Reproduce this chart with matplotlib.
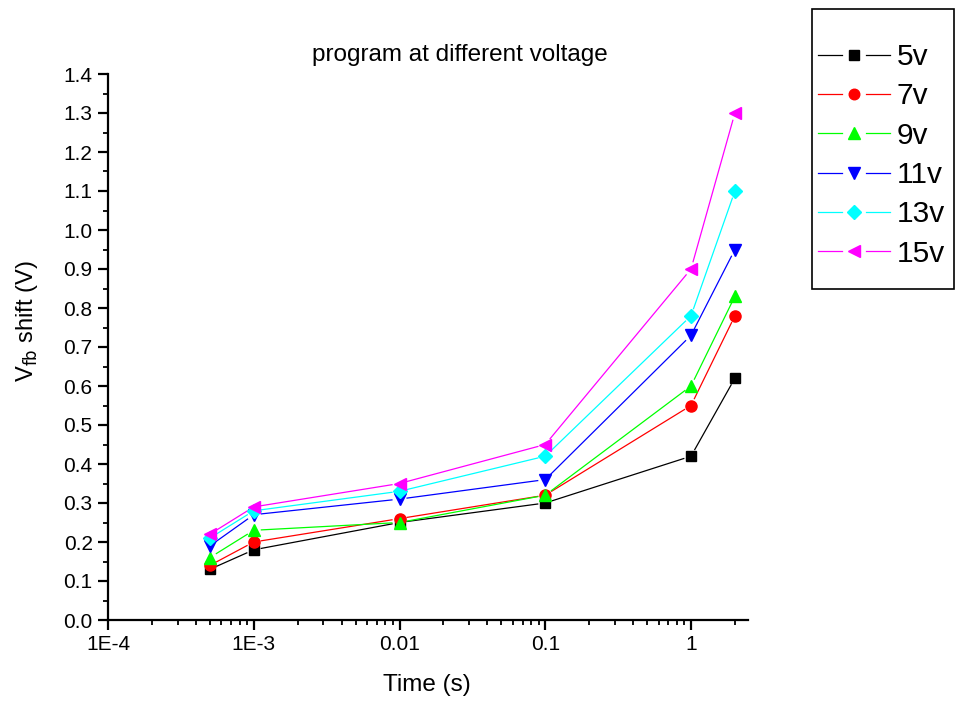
import numpy as np
import matplotlib
matplotlib.use("Agg")
import matplotlib.pyplot as plt
from matplotlib.lines import Line2D
from matplotlib.patches import Rectangle
from matplotlib.legend_handler import HandlerLine2D
from matplotlib.ticker import FixedLocator, FixedFormatter, MultipleLocator, LogLocator, NullFormatter

plt.rcParams['font.family'] = ['Liberation Sans', 'DejaVu Sans']

# Programming time (s)
times = [5e-4, 1e-3, 1e-2, 1e-1, 1.0, 2.0]

# Flat-band voltage shift (V) for each program voltage
v5 = [0.13, 0.18, 0.25, 0.30, 0.42, 0.62]
v7 = [0.14, 0.20, 0.26, 0.32, 0.55, 0.78]
v9 = [0.16, 0.23, 0.25, 0.32, 0.60, 0.83]
v11 = [0.19, 0.27, 0.31, 0.36, 0.73, 0.95]
v13 = [0.21, 0.28, 0.33, 0.42, 0.78, 1.10]
v15 = [0.22, 0.29, 0.35, 0.45, 0.90, 1.30]

labels = ['5v', '7v', '9v', '11v', '13v', '15v']
series = [v5, v7, v9, v11, v13, v15]
colors = ['#000000', '#ff0000', '#00ff00', '#0000ff', '#00ffff', '#ff00ff']
markers = ['s', 'o', '^', 'v', 'D', '<']
msizes = [7, 8, 9, 9, 7.5, 9]

xtick_vals = [1e-4, 1e-3, 1e-2, 1e-1, 1]
xtick_labels = ['1E-4', '1E-3', '0.01', '0.1', '1']

W, H = 957, 702
fig = plt.figure(figsize=(W / 100, H / 100), dpi=100)
ax = fig.add_axes([108 / W, 1 - 620 / H, 640 / W, 546 / H])
ax.set_xscale('log')
ax.set_xlim(1e-4, 2.46)
ax.set_ylim(0, 1.4)

GAP = 7.0  # pixels of clearance between line ends and markers


def gapped_segments(ax, xs, ys, gap):
    pts = ax.transData.transform(np.column_stack([xs, ys]))
    inv = ax.transData.inverted()
    segs = []
    for p, q in zip(pts[:-1], pts[1:]):
        d = q - p
        L = np.hypot(*d)
        if L <= 2 * gap:
            continue
        u = d / L
        a = inv.transform(p + u * gap)
        b = inv.transform(q - u * gap)
        segs.append((a, b))
    return segs


for vals, c in zip(series, colors):
    for a, b in gapped_segments(ax, times, vals, GAP):
        ax.plot([a[0], b[0]], [a[1], b[1]], color=c, lw=0.9, solid_capstyle='butt')
for vals, c, m, ms in zip(series, colors, markers, msizes):
    ax.plot(times, vals, linestyle='none', marker=m, color=c, ms=ms, mec=c)

# Axes styling
for side in ['top', 'right']:
    ax.spines[side].set_visible(False)
for side in ['left', 'bottom']:
    ax.spines[side].set_linewidth(1.6)

ax.xaxis.set_major_locator(FixedLocator(xtick_vals))
ax.xaxis.set_major_formatter(FixedFormatter(xtick_labels))
ax.xaxis.set_minor_locator(LogLocator(base=10, subs=np.arange(2, 10)))
ax.xaxis.set_minor_formatter(NullFormatter())
ax.yaxis.set_major_locator(MultipleLocator(0.1))
ax.yaxis.set_minor_locator(MultipleLocator(0.05))
ax.yaxis.set_major_formatter(plt.FuncFormatter(lambda v, p: f'{v:.1f}'))

ax.tick_params(which='major', direction='out', length=7, width=1.6, labelsize=15, pad=4)
ax.tick_params(which='minor', direction='out', length=3.5, width=1.3)

fig.text(427 / W, 1 - 685 / H, 'Time (s)', fontsize=17.5, ha='center', va='center')
fig.text(27 / W, 1 - 321 / H, 'V$_{\\mathrm{fb}}$ shift (V)', fontsize=17,
         ha='center', va='center', rotation=90)
fig.text(460 / W, 1 - 55 / H, 'program at different voltage', fontsize=17.5,
         ha='center', va='center')


class HandlerGapLine(HandlerLine2D):
    def create_artists(self, legend, orig_handle, xdescent, ydescent,
                       width, height, fontsize, trans):
        y = (height - ydescent) / 2.0
        x0, x1 = -xdescent, -xdescent + width
        xm = (x0 + x1) / 2.0
        g = width * 0.17
        c = orig_handle.get_color()
        lw = orig_handle.get_linewidth()
        left = Line2D([x0, xm - g], [y, y], color=c, lw=lw)
        right = Line2D([xm + g, x1], [y, y], color=c, lw=lw)
        mk = Line2D([xm], [y], linestyle='none', marker=orig_handle.get_marker(),
                    color=c, ms=orig_handle.get_markersize(), mec=c)
        for art in (left, right, mk):
            art.set_transform(trans)
        return [left, right, mk]


# Legend frame
fig.add_artist(Rectangle((812 / W, 1 - 289 / H), 142 / W, 280 / H,
                         transform=fig.transFigure, fill=False,
                         edgecolor='black', lw=1.2))

handles = [Line2D([], [], color=c, marker=m, ms=ms * 0.95, lw=0.9)
           for c, m, ms in zip(colors, markers, msizes)]
leg = fig.legend(handles, labels, loc='upper left',
                 bbox_to_anchor=(818 / W, 1 - 43 / H),
                 fontsize=21.5, frameon=False,
                 handlelength=2.4, handletextpad=0.23, labelspacing=0.38,
                 borderpad=0, borderaxespad=0,
                 handler_map={Line2D: HandlerGapLine()})

fig.savefig('out.png', dpi=100)
